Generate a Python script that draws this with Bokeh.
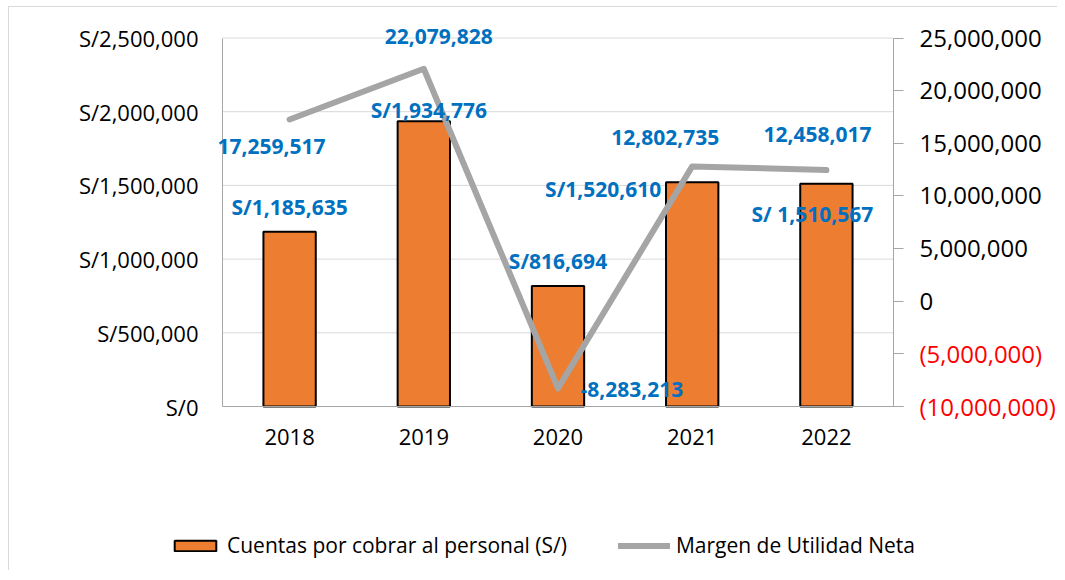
from bokeh.plotting import figure
from bokeh.models import (ColumnDataSource, Range1d, LinearAxis, FixedTicker,
                          CustomJSTickFormatter, LabelSet, Legend, LegendItem)
from bokeh.core.properties import value
from bokeh.embed import file_html
from bokeh.resources import INLINE

# ---- data ----
years = ["2018", "2019", "2020", "2021", "2022"]
cuentas = [1185635, 1934776, 816694, 1520610, 1510567]
margen = [17259517, 22079828, -8283213, 12802735, 12458017]
left_ticks = [0, 500000, 1000000, 1500000, 2000000, 2500000]
right_ticks = [-10000000, -5000000, 0, 5000000, 10000000, 15000000, 20000000, 25000000]

bar_label_text = ["S/{:,}".format(v) for v in cuentas]
bar_label_text[4] = "S/ {:,}".format(cuentas[4])
line_label_text = ["{:,}".format(v) for v in margen]

# ---- label placement (pixels, styling only) ----
bar_dx = [0, 5, 0, -89, -14]
bar_dy = [25, 11, 25, -7, -30]
line_dx = [-18, 15, 74, -27, -9]
line_dy = [-27, 32, -1, 29, 36]

FONT = "Open Sans"
GRAY_AXIS = "#A6A6A6"
W, H = 1049, 564
# plot area inside the canvas (px): the frame covers the whole canvas so that
# labels and legend outside the plot area are not clipped
PAD_L, PAD_R, PAD_T, PAD_B = 213, 165, 30.5, 165
PLOT_W = W - PAD_L - PAD_R
PLOT_H = H - PAD_T - PAD_B

x_pos = list(range(len(years)))
x_lo, x_hi = x_pos[0] - 0.5, x_pos[-1] + 0.5
cat_w = x_hi - x_lo
x_start = x_lo - PAD_L / PLOT_W * cat_w
x_end = x_hi + PAD_R / PLOT_W * cat_w

def yr(ticks):
    lo, hi = ticks[0], ticks[-1]
    span = hi - lo
    return Range1d(lo - PAD_B / PLOT_H * span, hi + PAD_T / PLOT_H * span)

src = ColumnDataSource(dict(x=x_pos, year=years, cuentas=cuentas, margen=margen,
                            bar_text=bar_label_text, line_text=line_label_text,
                            bar_dx=bar_dx, bar_dy=bar_dy, line_dx=line_dx, line_dy=line_dy))

p = figure(x_range=Range1d(x_start, x_end), y_range=yr(left_ticks),
           width=W, height=H, output_backend="svg", toolbar_location=None,
           min_border_left=0, min_border_right=0, min_border_top=0, min_border_bottom=0)
p.extra_y_ranges = {"right": yr(right_ticks)}
p.outline_line_color = None
p.background_fill_color = "white"
p.border_fill_color = "white"
p.xgrid.visible = False
p.ygrid.visible = False
p.styles = {"margin-left": "8px", "margin-top": "6px",
            "border-left": "1px solid #D9D9D9", "border-top": "1px solid #D9D9D9"}

# horizontal grid lines of the left axis, limited to the plot area
p.segment(x0=[x_lo] * len(left_ticks), x1=[x_hi] * len(left_ticks), y0=left_ticks, y1=left_ticks,
          line_color="#D9D9D9", line_width=1, level="underlay")

bars = p.vbar(x="x", top="cuentas", width=0.39, source=src,
              fill_color="#ED7D31", line_color="black", line_width=2)
line = p.line(x="x", y="margen", source=src, y_range_name="right",
              line_color="#A5A5A5", line_width=6, line_cap="round", line_join="round")

comma_js = "Math.round(Math.abs(tick)).toString().replace(/\\B(?=(\\d{3})+(?!\\d))/g, ',')"

# left axis
ya = p.yaxis[0]
ya.fixed_location = x_lo
ya.bounds = (left_ticks[0], left_ticks[-1])
ya.ticker = FixedTicker(ticks=left_ticks)
ya.formatter = CustomJSTickFormatter(code="return 'S/' + " + comma_js + ";")
ya.major_tick_out = 0
ya.major_tick_in = 0
ya.minor_tick_out = 0
ya.minor_tick_in = 0
ya.axis_line_color = GRAY_AXIS
ya.major_label_standoff = 24
ya.major_label_text_font = FONT
ya.major_label_text_font_size = "22px"
ya.major_label_text_color = "black"

# bottom axis
xa = p.xaxis[0]
xa.fixed_location = left_ticks[0]
xa.bounds = (x_lo, x_hi)
xa.ticker = FixedTicker(ticks=x_pos)
xa.formatter = CustomJSTickFormatter(args=dict(labels=years),
                                     code="const i = Math.round(tick); return (i >= 0 && i < labels.length) ? labels[i] : '';")
xa.major_tick_out = 0
xa.major_tick_in = 0
xa.minor_tick_out = 0
xa.minor_tick_in = 0
xa.axis_line_color = GRAY_AXIS
xa.major_label_standoff = 22
xa.major_label_text_font = FONT
xa.major_label_text_font_size = "22px"
xa.major_label_text_color = "black"

# right axis (non-negative labels, black)
ra = LinearAxis(y_range_name="right", ticker=FixedTicker(ticks=right_ticks), fixed_location=x_hi,
                formatter=CustomJSTickFormatter(code="if (tick < 0) { return ''; } return " + comma_js + ";"))
ra.bounds = (right_ticks[0], right_ticks[-1])
ra.major_tick_out = 10
ra.major_tick_in = 0
ra.minor_tick_out = 0
ra.minor_tick_in = 0
ra.axis_line_color = GRAY_AXIS
ra.major_tick_line_color = GRAY_AXIS
ra.major_label_standoff = 16
ra.major_label_text_font = FONT
ra.major_label_text_font_size = "24px"
ra.major_label_text_color = "black"
p.add_layout(ra, "right")

# right axis overlay (negative labels in red, parentheses)
neg_ticks = [t for t in right_ticks if t < 0]
ra2 = LinearAxis(y_range_name="right", ticker=FixedTicker(ticks=neg_ticks), fixed_location=x_hi,
                 formatter=CustomJSTickFormatter(code="return '(' + " + comma_js + " + ')';"))
ra2.axis_line_color = None
ra2.major_tick_out = 10
ra2.major_tick_in = 0
ra2.major_tick_line_color = GRAY_AXIS
ra2.minor_tick_out = 0
ra2.minor_tick_in = 0
ra2.major_label_standoff = 16
ra2.major_label_text_font = FONT
ra2.major_label_text_font_size = "24px"
ra2.major_label_text_color = "#FF0000"
p.add_layout(ra2, "right")

# data labels
p.add_layout(LabelSet(x="x", y="cuentas", text="bar_text", source=src,
                      x_offset="bar_dx", y_offset="bar_dy",
                      text_font=value(FONT), text_font_size="21px", text_font_style="bold",
                      text_color="#0070C0", text_align="center", text_baseline="middle"))
p.add_layout(LabelSet(x="x", y="margen", text="line_text", source=src, y_range_name="right",
                      x_offset="line_dx", y_offset="line_dy",
                      text_font=value(FONT), text_font_size="21px", text_font_style="bold",
                      text_color="#0070C0", text_align="center", text_baseline="middle"))

legend = Legend(items=[LegendItem(label="Cuentas por cobrar al personal (S/)", renderers=[bars]),
                       LegendItem(label="Margen de Utilidad Neta", renderers=[line])],
                orientation="horizontal", location=(160, 12), border_line_color=None,
                background_fill_alpha=0, padding=0, spacing=51, margin=0,
                glyph_width=52, glyph_height=13, label_standoff=6, label_height=26,
                label_text_font=FONT, label_text_font_size="21px", label_text_color="black")
p.add_layout(legend)

open("out.html", "w").write(file_html(p, INLINE))
